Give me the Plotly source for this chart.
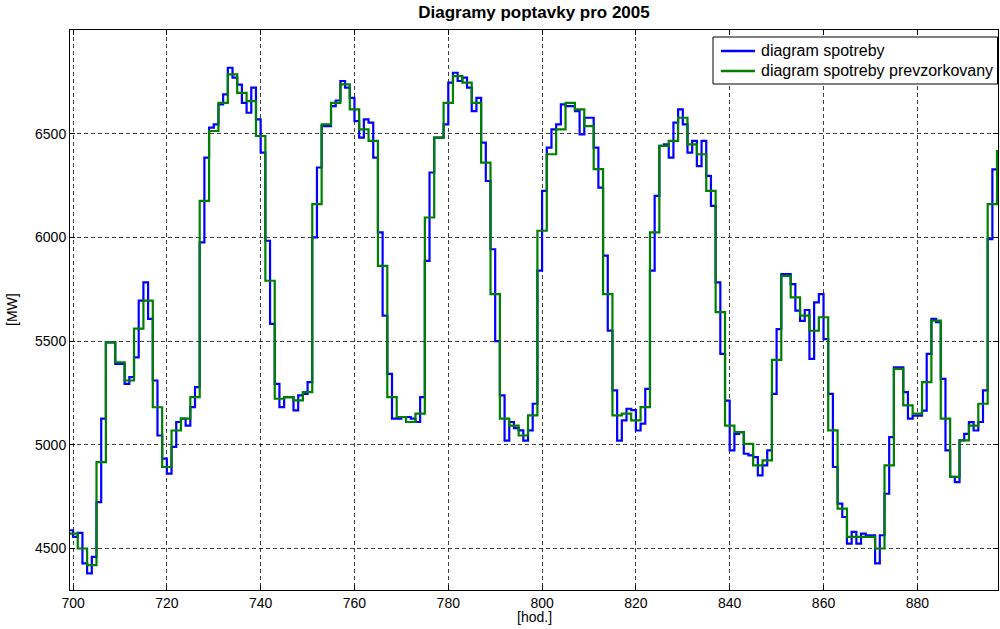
import plotly.graph_objects as go

# Hourly electricity demand, hours 699..898 [MW]
hodiny = list(range(699, 899))

spotreba = [
    4588, 4556, 4575, 4428, 4380, 4460, 4724, 5126, 5494, 5494,   # 699-708
    5390, 5390, 5294, 5326, 5422, 5695, 5783, 5607, 5310, 5045,   # 709-718
    4933, 4861, 4990, 5110, 5126, 5093, 5182, 5278, 5976, 6385,   # 719-728
    6529, 6545, 6641, 6690, 6818, 6770, 6737, 6649, 6601, 6722,   # 729-738
    6569, 6409, 5984, 5583, 5294, 5182, 5230, 5230, 5166, 5238,   # 739-748
    5246, 5302, 6000, 6337, 6537, 6537, 6633, 6660, 6754, 6722,   # 749-758
    6673, 6561, 6481, 6569, 6553, 6385, 6024, 5623, 5342, 5126,   # 759-768
    5126, 5134, 5134, 5126, 5110, 5230, 5887, 6313, 6481, 6481,   # 769-778
    6545, 6746, 6794, 6754, 6770, 6722, 6609, 6673, 6457, 6272,   # 779-788
    5943, 5500, 5238, 5020, 5110, 5080, 5070, 5020, 5070, 5198,   # 789-798
    5840, 6224, 6433, 6521, 6545, 6641, 6633, 6633, 6609, 6497,   # 799-808
    6577, 6577, 6433, 6240, 5912, 5551, 5262, 5020, 5118, 5174,   # 809-818
    5167, 5069, 5102, 5270, 5840, 6200, 6441, 6449, 6385, 6553,   # 819-828
    6617, 6545, 6409, 6465, 6344, 6465, 6297, 6152, 5783, 5438,   # 829-838
    5213, 4973, 5053, 5061, 4957, 4949, 4941, 4853, 4901, 4973,   # 839-848
    5246, 5558, 5823, 5823, 5775, 5647, 5598, 5650, 5414, 5687,   # 849-858
    5727, 5510, 5246, 4893, 4716, 4652, 4524, 4580, 4524, 4572,   # 859-868
    4564, 4564, 4428, 4564, 4764, 5037, 5374, 5374, 5254, 5126,   # 869-878
    5141, 5141, 5165, 5438, 5607, 5591, 5318, 4973, 4845, 4820,   # 879-888
    5021, 5053, 5109, 5069, 5110, 5262, 5992, 6328, 6416, 6416,   # 889-898
]

# Resampled demand (two-hour blocks), same hours [MW]
prevzorkovany = [
    4572, 4572, 4500, 4500, 4420, 4420, 4917, 4917, 5494, 5494,   # 699-708
    5398, 5398, 5310, 5310, 5560, 5560, 5695, 5695, 5181, 5181,   # 709-718
    4893, 4893, 5069, 5069, 5126, 5126, 5230, 5230, 6176, 6176,   # 719-728
    6513, 6513, 6649, 6649, 6786, 6786, 6697, 6697, 6657, 6657,   # 729-738
    6489, 6489, 5791, 5791, 5222, 5222, 5230, 5230, 5214, 5214,   # 739-748
    5254, 5254, 6160, 6160, 6545, 6545, 6649, 6649, 6738, 6738,   # 749-758
    6617, 6617, 6521, 6521, 6465, 6465, 5863, 5863, 5230, 5230,   # 759-768
    5134, 5134, 5110, 5110, 5150, 5150, 6096, 6096, 6481, 6481,   # 769-778
    6649, 6649, 6778, 6778, 6746, 6746, 6649, 6649, 6361, 6361,   # 779-788
    5727, 5727, 5126, 5126, 5093, 5093, 5045, 5045, 5142, 5142,   # 789-798
    6032, 6032, 6401, 6401, 6521, 6521, 6649, 6649, 6617, 6617,   # 799-808
    6537, 6537, 6329, 6329, 5727, 5727, 5142, 5142, 5150, 5150,   # 809-818
    5118, 5118, 5182, 5182, 6024, 6024, 6441, 6441, 6465, 6465,   # 819-828
    6577, 6577, 6449, 6449, 6401, 6401, 6224, 6224, 5640, 5640,   # 829-838
    5093, 5093, 5061, 5061, 5005, 5005, 4901, 4901, 4925, 4925,   # 839-848
    5410, 5410, 5815, 5815, 5711, 5711, 5623, 5623, 5550, 5550,   # 849-858
    5615, 5615, 5070, 5070, 4692, 4692, 4556, 4556, 4556, 4556,   # 859-868
    4556, 4556, 4500, 4500, 4901, 4901, 5366, 5366, 5190, 5190,   # 869-878
    5150, 5150, 5302, 5302, 5599, 5599, 5126, 5126, 4845, 4845,   # 879-888
    5021, 5021, 5093, 5093, 5198, 5198, 6160, 6160, 6416, 6416,   # 889-898
]

x_ticks = [700, 720, 740, 760, 780, 800, 820, 840, 860, 880]
y_ticks = [4500, 5000, 5500, 6000, 6500]

FONT = "Liberation Sans, Arial, sans-serif"
BLUE, GREEN = "#0000FF", "#008000"

# plot area in pixels: left 70, right 998, top 30, bottom 590
L, T = 70, 30
PLOT_W, PLOT_H = 928, 560


def px_x(p):
    """pixel column -> paper x"""
    return (p - L) / PLOT_W


def px_y(p):
    """pixel row -> paper y"""
    return 1 - (p - T) / PLOT_H


series = [("diagram spotreby", spotreba, BLUE),
          ("diagram spotreby prevzorkovany", prevzorkovany, GREEN)]

fig = go.Figure()
for name, vals, color in series:
    fig.add_trace(go.Scatter(
        x=hodiny, y=vals, mode="lines", line_shape="hv",
        line=dict(color=color, width=2.2), name=name,
    ))

axis_common = dict(
    showline=True, linecolor="black", linewidth=1, mirror="ticks",
    ticks="inside", ticklen=5, tickcolor="black",
    showgrid=True, gridcolor="rgba(0,0,0,0.75)", gridwidth=1, griddash="4px,3px",
    zeroline=False,
    tickfont=dict(family=FONT, size=14, color="black"),
)

fig.update_xaxes(range=[699.35, 897.2], tickvals=x_ticks, **axis_common)
fig.update_yaxes(range=[4300, 7000], tickvals=y_ticks, **axis_common)

# legend box in the upper right corner, MATLAB style
shapes = [dict(type="rect", xref="paper", yref="paper",
               x0=px_x(713), x1=px_x(997.5), y0=px_y(84), y1=px_y(37),
               line=dict(color="black", width=1), fillcolor="white", layer="above")]
annotations = []
for i, (name, _, color) in enumerate(series):
    row = 51 + 20 * i
    shapes.append(dict(type="line", xref="paper", yref="paper",
                       x0=px_x(721), x1=px_x(755), y0=px_y(row), y1=px_y(row),
                       line=dict(color=color, width=2.5), layer="above"))
    annotations.append(dict(text=name, xref="paper", yref="paper",
                            x=px_x(759), y=px_y(row), xanchor="left", yanchor="middle",
                            showarrow=False,
                            font=dict(family=FONT, size=16, color="black")))

annotations += [
    dict(text="[hod.]", x=0.5, xref="paper", y=-27 / PLOT_H, yref="paper",
         xanchor="center", yanchor="middle", showarrow=False,
         font=dict(family=FONT, size=14, color="black")),
    dict(text="[MW]", x=-58 / PLOT_W, xref="paper", y=0.5, yref="paper",
         xanchor="center", yanchor="middle", textangle=-90, showarrow=False,
         font=dict(family=FONT, size=14, color="black")),
]

fig.update_layout(
    width=1000, height=629,
    margin=dict(l=L, r=1000 - L - PLOT_W, t=T, b=629 - T - PLOT_H),
    paper_bgcolor="white", plot_bgcolor="white",
    font=dict(family=FONT, size=14, color="black"),
    title=dict(
        text="<b>Diagramy poptavky pro 2005</b>",
        x=0.5, xref="paper", y=1 - 12 / 629, yref="container",
        xanchor="center", yanchor="middle",
        font=dict(family=FONT, size=17, color="black"),
    ),
    showlegend=False,
    shapes=shapes,
    annotations=annotations,
)

fig.write_html("out.html")
